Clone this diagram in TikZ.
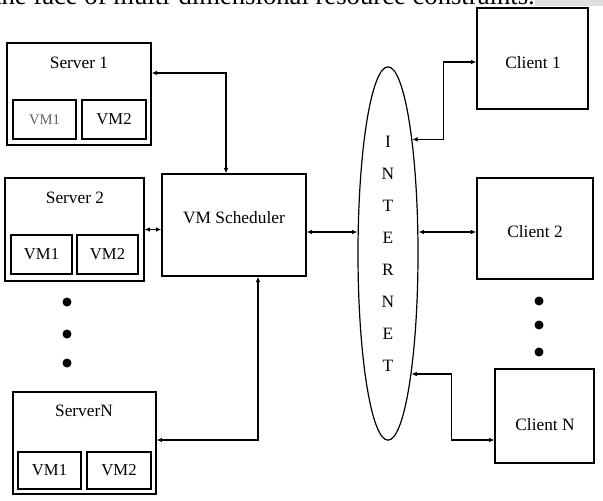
\documentclass[tikz,border=0pt]{standalone}
\usepackage{fontspec}
\setmainfont{Liberation Serif}
\usepackage{tikz}
\usetikzlibrary{arrows.meta,shapes.geometric,calc}

\tikzset{
  box/.style={draw, line width=1.1pt, inner sep=0pt},
  vmbox/.style={box, line width=1.3pt, font=\fontsize{12.5}{14}\selectfont},
  link/.style={{Latex[length=4pt,width=3.5pt]}-{Latex[length=4pt,width=3.5pt]}, line width=0.9pt},
  txt/.style={inner sep=0.75pt, font=\fontsize{13}{15}\selectfont},
  dot/.style={circle, fill, inner sep=0pt, minimum size=6.75pt}
}

\begin{document}
\begin{tikzpicture}[x=0.75pt,y=0.75pt,yscale=-1,xscale=1]
\useasboundingbox (0,0) rectangle (603,500);
\clip (0,0) rectangle (603,500);

% Cut-off text line above the figure
\fill [gray!25] (535,0) rectangle (603,6);
\node [anchor=base east, inner sep=0pt, font=\fontsize{20}{24}\selectfont] (caption) at (535,4.5) {the face of multi-dimensional resource constraints.};

% Servers
\node [box, minimum width=108pt, minimum height=76.5pt] (srvA) at (79,94) {};
\node [txt] (srvAtxt) at (79,63) {Server 1};
\node [vmbox, minimum width=47pt, minimum height=29pt, text=gray!75!black, font=\fontsize{11}{13}\selectfont] (vmAa) at (44.5,119.5) {VM1};
\node [vmbox, minimum width=48pt, minimum height=29pt] (vmAb) at (114,119.5) {VM2};

\node [box, minimum width=104pt, minimum height=77pt] (srvB) at (74.5,229.5) {};
\node [txt] (srvBtxt) at (75,198) {Server 2};
\node [vmbox, minimum width=46pt, minimum height=29pt] (vmBa) at (41.5,254.5) {VM1};
\node [vmbox, minimum width=46pt, minimum height=29pt] (vmBb) at (107.5,254.5) {VM2};

\node [box, minimum width=107pt, minimum height=76.5pt] (srvN) at (84.5,443) {};
\node [txt] (srvNtxt) at (84,411) {ServerN};
\node [vmbox, minimum width=47pt, minimum height=28pt] (vmNa) at (49.5,470.5) {VM1};
\node [vmbox, minimum width=48pt, minimum height=28pt] (vmNb) at (119,470.5) {VM2};

% Dots
\node [dot] (sdot1) at (67,302) {};
\node [dot] (sdot2) at (67,334) {};
\node [dot] (sdot3) at (67,363) {};

% Scheduler
\node [box, minimum width=108pt, minimum height=76.5pt] (sched) at (234,225) {};
\node [txt] (schedtxt) at (234,218) {VM Scheduler};

% Internet
\node [ellipse, draw, line width=0.9pt, inner sep=0pt, minimum width=45pt, minimum height=280pt, align=center, font=\fontsize{13}{24}\selectfont] (internet) at (388,253.5) {I\\N\\T\\E\\R\\N\\E\\T};

% Clients
\node [box, minimum width=83pt, minimum height=76pt] (cliA) at (532.5,58.5) {};
\node [txt] (cliAtxt) at (533,63) {Client 1};
\node [box, minimum width=87pt, minimum height=76pt] (cliB) at (535,228.5) {};
\node [txt] (cliBtxt) at (535,232) {Client 2};
\node [box, minimum width=74pt, minimum height=70.5pt] (cliN) at (544.5,416) {};
\node [txt] (cliNtxt) at (545,425) {Client N};

\node [dot] (cdot1) at (539,301) {};
\node [dot] (cdot2) at (539,325) {};
\node [dot] (cdot3) at (539,352) {};

%Connectors
\draw [link] ($(srvA.east)+(0,-21)$) -| ($(sched.north)+(-8,0)$);
\draw [link] (srvB.east) -- (sched.west |- srvB.east);
\draw [link] ($(srvN.east)+(0,-3)$) -| ($(sched.south)+(24,0)$);
\coordinate (schedR) at ($(sched.east)+(0,7)$);
\draw [link] (schedR) -- (internet.west |- schedR);

\draw [link] (internet.78.6) -- ++(31,0) |- ($(cliA.west)+(0,3.5)$);
\coordinate (cliBL) at ($(cliB.west)+(0,3.5)$);
\draw [link] (internet.east |- cliBL) -- (cliBL);
\draw [link] (internet.-79.7) -- ++(40,0) |- ($(cliN.west)+(0,24)$);

\end{tikzpicture}
\end{document}
